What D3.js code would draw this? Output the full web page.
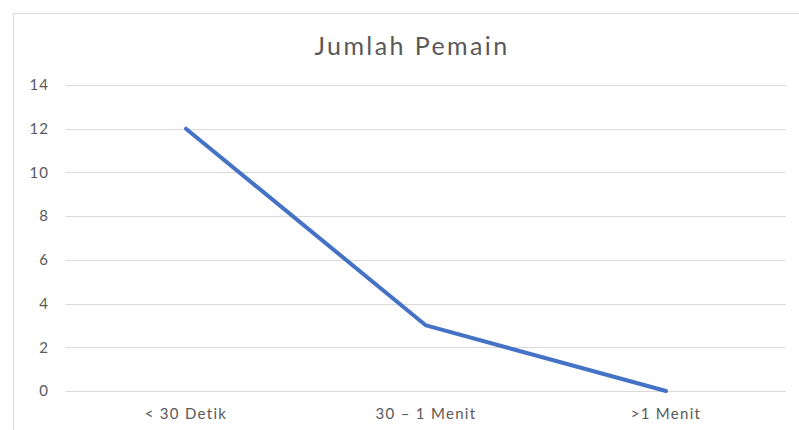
<!DOCTYPE html>
<html>
<head>
<meta charset="utf-8">
<script src="https://cdn.jsdelivr.net/npm/d3@7"></script>
<style>
  body { margin: 0; background: #fff; }
  text { font-family: Lato, "Open Sans", sans-serif; fill: #595959; }
</style>
</head>
<body>
<script>
const categories = ['< 30 Detik', '30 – 1 Menit', '>1 Menit'];
const values = [12, 3, 0];
const yTicks = [0, 2, 4, 6, 8, 10, 12, 14];
const title = 'Jumlah Pemain';

const width = 799, height = 430;
const svg = d3.select('body').append('svg').attr('width', width).attr('height', height);

// chart border (runs off the right and bottom edges)
svg.append('rect')
  .attr('x', 13.5).attr('y', 13.5)
  .attr('width', 820).attr('height', 440)
  .attr('fill', 'none').attr('stroke', '#d9d9d9').attr('stroke-width', 1);

const x = d3.scaleBand().domain(categories).range([66, 786]);
const y = d3.scaleLinear().domain([0, 14]).range([391, 85]);

const g = svg.append('g');

g.selectAll('line.grid')
  .data(yTicks)
  .enter()
  .append('line')
  .attr('class', 'grid')
  .attr('x1', 66).attr('x2', 786)
  .attr('y1', d => Math.round(y(d)) + 0.5)
  .attr('y2', d => Math.round(y(d)) + 0.5)
  .attr('stroke', '#d9d9d9').attr('stroke-width', 1);

g.selectAll('text.ytick')
  .data(yTicks)
  .enter()
  .append('text')
  .attr('class', 'ytick')
  .attr('x', 49)
  .attr('y', d => y(d))
  .attr('dy', '0.35em')
  .attr('text-anchor', 'end')
  .style('font-size', '15px')
  .style('letter-spacing', '1px')
  .text(d => d);

g.selectAll('text.xtick')
  .data(categories)
  .enter()
  .append('text')
  .attr('class', 'xtick')
  .attr('x', d => x(d) + x.bandwidth() / 2)
  .attr('y', 419)
  .attr('text-anchor', 'middle')
  .style('font-size', '15px')
  .style('letter-spacing', '1.3px')
  .text(d => d);

const line = d3.line()
  .x((d, i) => x(categories[i]) + x.bandwidth() / 2)
  .y(d => y(d));

g.append('path')
  .datum(values)
  .attr('d', line)
  .attr('fill', 'none')
  .attr('stroke', '#4472c4')
  .attr('stroke-width', 4)
  .attr('stroke-linejoin', 'round')
  .attr('stroke-linecap', 'round');

svg.append('text')
  .attr('x', 412)
  .attr('y', 55)
  .attr('text-anchor', 'middle')
  .style('font-size', '25px')
  .style('letter-spacing', '2.4px')
  .text(title);
</script>
</body>
</html>
